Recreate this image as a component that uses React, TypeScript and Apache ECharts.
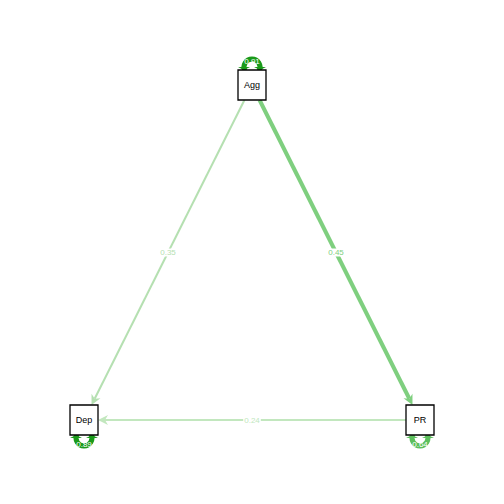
import { useEffect, useRef } from 'react'
import * as echarts from 'echarts'

const nodeNames = ['Agg', 'Dep', 'PR']
const nodeX = [0, -1, 1]
const nodeY = [1, -1, -1]
const edgeFrom = [0, 0, 2]
const edgeTo = [1, 2, 1]
const edgeWeights = [0.35, 0.45, 0.24]
const loopWeights = [0.91, 0.89, 0.64]
const loopSide = [1, -1, -1] // 1 = above, -1 = below

const HW = 14
const HH = 15

function edgeColor(w: number) {
  if (w >= 0.8) return '#1a9a1a'
  if (w >= 0.6) return '#5cbf5c'
  if (w >= 0.4) return '#7fcf7f'
  if (w >= 0.3) return '#b5e0b1'
  return '#c2e7be'
}

export default function App() {
  const ref = useRef<HTMLDivElement>(null)

  useEffect(() => {
    if (!ref.current) return
    const chart = echarts.init(ref.current, null, { renderer: 'svg' })

    const edgeData = edgeFrom.map((f, i) => [nodeX[f], nodeY[f], nodeX[edgeTo[i]], nodeY[edgeTo[i]], edgeWeights[i]])
    const nodeData = nodeNames.map((n, i) => [nodeX[i], nodeY[i], n])
    const loopData = nodeNames.map((_, i) => [nodeX[i], nodeY[i], loopWeights[i], loopSide[i]])

    const option = {
      animation: false,
      grid: { left: 84, right: 84, top: 85, bottom: 84 },
      xAxis: { type: 'value', min: -1, max: 1, show: false },
      yAxis: { type: 'value', min: -1, max: 1, show: false },
      series: [
        {
          type: 'custom',
          data: edgeData,
          z: 1,
          renderItem: (params: any, api: any) => {
            const a = api.coord([api.value(0), api.value(1)])
            const b = api.coord([api.value(2), api.value(3)])
            const w = api.value(4)
            const dx = b[0] - a[0]
            const dy = b[1] - a[1]
            const tA = Math.min(dx ? HW / Math.abs(dx) : 1, dy ? HH / Math.abs(dy) : 1)
            const s = [a[0] + dx * tA, a[1] + dy * tA]
            const e = [b[0] - dx * tA, b[1] - dy * tA]
            const len = Math.hypot(dx, dy)
            const ux = dx / len
            const uy = dy / len
            const col = edgeColor(w)
            const lw = w >= 0.4 ? 4 : 2
            const al = 10
            const aw = 5
            const base = [e[0] - ux * al, e[1] - uy * al]
            const mx = (s[0] + e[0]) / 2
            const my = (s[1] + e[1]) / 2
            return {
              type: 'group',
              children: [
                { type: 'line', shape: { x1: s[0], y1: s[1], x2: base[0] + ux * 3, y2: base[1] + uy * 3 }, style: { stroke: col, lineWidth: lw } },
                {
                  type: 'polygon',
                  shape: { points: [e, [base[0] - uy * aw, base[1] + ux * aw], [e[0] - ux * 7, e[1] - uy * 7], [base[0] + uy * aw, base[1] - ux * aw]] },
                  style: { fill: col }
                },
                {
                  type: 'text',
                  x: mx, y: my,
                  style: {
                    text: w.toFixed(2), fill: col, fontSize: 8, fontFamily: 'Liberation Sans',
                    align: 'center', verticalAlign: 'middle', backgroundColor: '#fff', padding: [0, 1]
                  }
                }
              ]
            }
          }
        },
        {
          type: 'custom',
          data: loopData,
          z: 2,
          renderItem: (params: any, api: any) => {
            const c = api.coord([api.value(0), api.value(1)])
            const w = api.value(2)
            const side = api.value(3)
            const col = edgeColor(w)
            const cy = c[1] - side * (HH + 3)
            const r = 8
            const start = side > 0 ? Math.PI * 0.85 : -Math.PI * 0.15
            const end = side > 0 ? Math.PI * 2.15 : Math.PI * 1.15
            const yTip = c[1] - side * HH
            const ly = c[1] - side * (HH + 9)
            return {
              type: 'group',
              children: [
                { type: 'arc', shape: { cx: c[0], cy, r, startAngle: start, endAngle: end }, style: { stroke: col, lineWidth: 5, fill: 'none' } },
                { type: 'polygon', shape: { points: [[c[0] - 14, cy], [c[0] - 2, cy], [c[0] - 8, yTip]] }, style: { fill: col } },
                { type: 'polygon', shape: { points: [[c[0] + 14, cy], [c[0] + 2, cy], [c[0] + 8, yTip]] }, style: { fill: col } },
                {
                  type: 'text', x: c[0], y: ly,
                  style: { text: w.toFixed(2), fill: '#ffffff', fontSize: 8, fontFamily: 'Liberation Sans', align: 'center', verticalAlign: 'middle' }
                }
              ]
            }
          }
        },
        {
          type: 'custom',
          data: nodeData,
          z: 3,
          renderItem: (params: any, api: any) => {
            const c = api.coord([api.value(0), api.value(1)])
            return {
              type: 'group',
              children: [
                { type: 'rect', shape: { x: c[0] - HW, y: c[1] - HH, width: HW * 2, height: HH * 2 }, style: { fill: '#fff', stroke: '#000', lineWidth: 1.3 } },
                {
                  type: 'text', x: c[0], y: c[1],
                  style: { text: nodeNames[params.dataIndex], fill: '#000', fontSize: 9, fontFamily: 'Liberation Sans', align: 'center', verticalAlign: 'middle' }
                }
              ]
            }
          }
        }
      ]
    }

    chart.setOption(option)
    return () => chart.dispose()
  }, [])

  return <div ref={ref} style={{ position: 'fixed', left: 0, top: 0, width: 504, height: 504, background: '#fff' }} />
}
